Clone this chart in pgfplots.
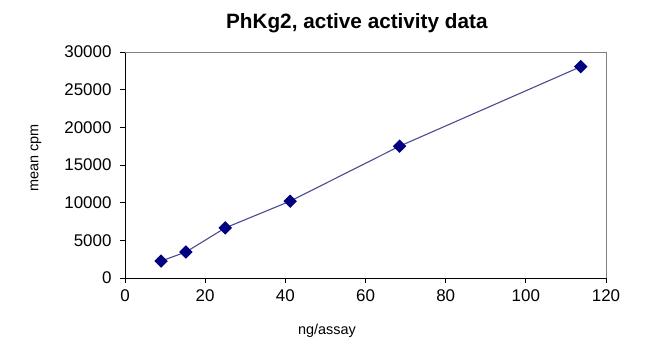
\documentclass[border=0pt]{standalone}
\usepackage{pgfplots}
\pgfplotsset{compat=1.18}
\usepackage{fontspec}
\setmainfont{Liberation Sans}
\definecolor{linec}{RGB}{75,75,145}
\definecolor{markc}{RGB}{0,0,128}
\begin{document}
\begin{tikzpicture}
\path[use as bounding box] (0,0) rectangle (650bp,357bp);
\begin{axis}[
  at={(125bp,79bp)}, anchor=south west,
  scale only axis, width=481bp, height=226bp,
  xmin=0, xmax=120, ymin=0, ymax=30000,
  xtick={0,20,...,120}, ytick={0,5000,...,30000},
  scaled y ticks=false,
  /pgf/number format/assume math mode=true,
  yticklabel style={/pgf/number format/fixed, /pgf/number format/1000 sep={}, xshift=-5bp},
  xticklabel style={yshift=-3bp},
  tick label style={font=\fontsize{17}{20}\selectfont},
  tick align=outside, major tick length=5bp,
  axis x line*=bottom, axis y line*=left,
  axis line style={black, line width=0.8pt},
  major tick style={black, line width=0.8pt},
  title={PhKg2, active activity data},
  title style={font=\fontsize{20.8}{24}\selectfont\bfseries, at={(axis description cs:0.482,1.10)}, anchor=center},
  xlabel={ng/assay},
  xlabel style={font=\fontsize{14.5}{17}\selectfont, at={(axis description cs:0.42,-0.232)}, anchor=center},
  ylabel={mean cpm},
  ylabel style={font=\fontsize{14.5}{17}\selectfont, at={(axis description cs:-0.185,0.53)}, anchor=center, rotate=0},
  clip=false,
]
\draw[gray, line width=0.8pt] (rel axis cs:0,1) -- (rel axis cs:1,1) -- (rel axis cs:1,0);
\addplot[color=linec, line width=1.1pt, mark=square*, mark size=4.2bp,
  mark options={fill=markc, draw=markc, rotate=45}] coordinates {
  (9,2250) (15.2,3450) (25,6650) (41.2,10200) (68.5,17500) (113.7,28050)
};
\end{axis}
\end{tikzpicture}
\end{document}
